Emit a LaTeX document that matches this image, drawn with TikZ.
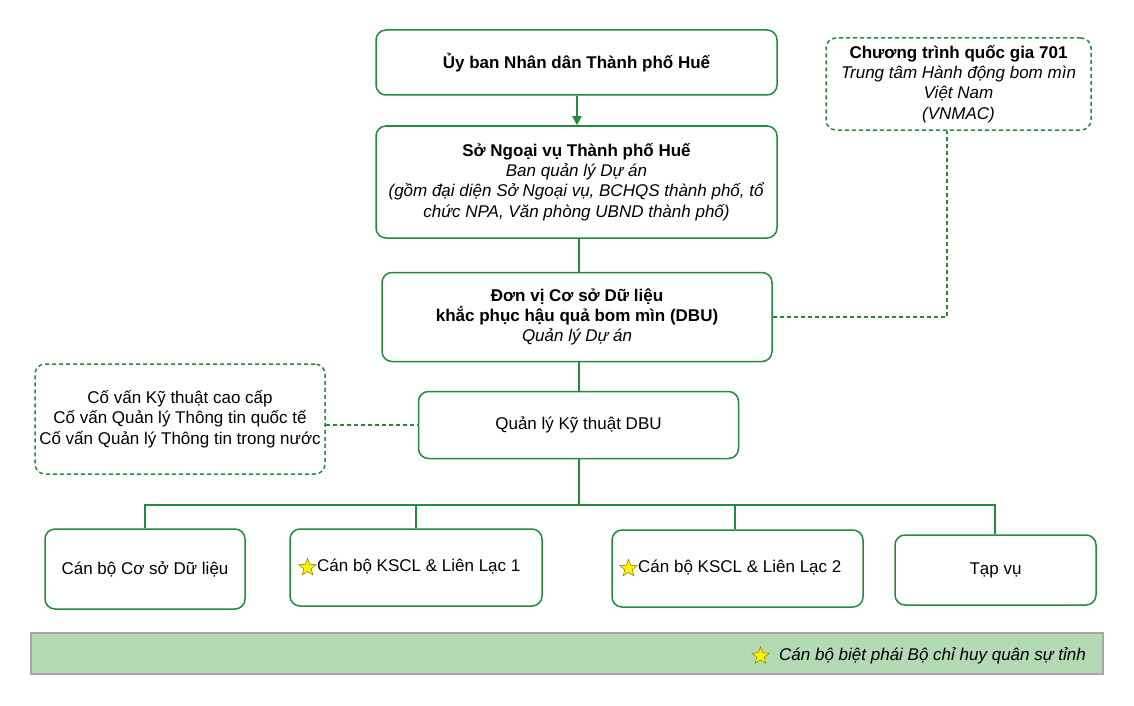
\documentclass[tikz,border=0pt]{standalone}
\usepackage{fontspec}
\setmainfont{Liberation Sans}
\usetikzlibrary{shapes.geometric,arrows.meta}
\definecolor{gr}{HTML}{228B3C}
\definecolor{legfill}{HTML}{B3DAB3}
\definecolor{legdraw}{HTML}{A6A6A6}
\definecolor{starline}{HTML}{8A8A00}
\begin{document}
\begin{tikzpicture}[x=1pt,y=-1pt,
  box/.style={draw=gr,line width=1.5pt,rounded corners=10pt,align=center,inner sep=0pt,fill=white,font=\fontsize{17}{20.4}\selectfont},
  dbox/.style={box,dash pattern=on 4pt off 3pt},
  txt/.style={inner sep=0pt,font=\fontsize{17}{20.4}\selectfont},
  ystar/.style={star,star points=5,star point ratio=2.3,draw=starline,fill=yellow,line width=0.6pt,inner sep=0pt,minimum size=18pt,sharp corners},
  link/.style={draw=gr,line width=1.6pt},
  dlink/.style={link,dash pattern=on 4pt off 3pt}]
\useasboundingbox (0,0) rectangle (1134,706);
\fill[white] (0,0) rectangle (1134,706);

\node[box,minimum width=401pt,minimum height=65pt] (b1) at (576.5,62.5) {\textbf{Ủy ban Nhân dân Thành phố Huế}};
\node[box,minimum width=401pt,minimum height=112pt] (b2) at (576.5,182) {\textbf{Sở Ngoại vụ Thành phố Huế}\\\textit{Ban quản lý Dự án}\\\textit{(gồm đại diện Sở Ngoại vụ, BCHQS thành phố, tổ}\\\textit{chức NPA, Văn phòng UBND thành phố)}};
\node[box,minimum width=390pt,minimum height=89pt] (b3) at (577,317) {\textbf{Đơn vị Cơ sở Dữ liệu}\\\textbf{khắc phục hậu quả bom mìn (DBU)}\\\textit{Quản lý Dự án}};
\node[box,minimum width=320pt,minimum height=67pt] (b4) at (578.5,425) {Quản lý Kỹ thuật DBU};

\node[dbox,minimum width=265pt,minimum height=92pt] (rd) at (958.5,84) {\textbf{Chương trình quốc gia 701}\\\textit{Trung tâm Hành động bom mìn}\\\textit{Việt Nam}\\\textit{(VNMAC)}};
\node[dbox,minimum width=290pt,minimum height=110pt] (ld) at (180,419) {Cố vấn Kỹ thuật cao cấp\\Cố vấn Quản lý Thông tin quốc tế\\Cố vấn Quản lý Thông tin trong nước};

\node[box,minimum width=200pt,minimum height=80pt] (c1) at (145,569) {Cán bộ Cơ sở Dữ liệu};
\node[box,minimum width=252pt,minimum height=77pt] (c2) at (416,567.5) {};
\node[txt,anchor=west] (c2t) at (317,567) {Cán bộ KSCL \& Liên Lạc 1};
\node[ystar] (s2) at (307.5,567.5) {};
\node[box,minimum width=251pt,minimum height=77pt] (c3) at (737.5,568.5) {};
\node[txt,anchor=west] (c3t) at (638,568) {Cán bộ KSCL \& Liên Lạc 2};
\node[ystar] (s3) at (628.5,568.5) {};
\node[box,minimum width=201pt,minimum height=70pt] (c4) at (995.5,570) {Tạp vụ};

\coordinate (j) at (579,505);
\coordinate (a) at (577,0);
\draw[link,-{Triangle[length=9pt,width=9pt]}] (a |- b1.south) -- (a |- b2.north);
\draw[link] (j |- b2.south) -- (j |- b3.north);
\draw[link] (j |- b3.south) -- (j |- b4.north);
\draw[link] (j |- b4.south) -- (j);
\draw[link] (c1.north) |- ([xshift=-0.5pt]c4.north |- j) -- ([xshift=-0.5pt]c4.north);
\draw[link] (c2.north) -- (c2.north |- j);
\draw[link] ([xshift=-2.5pt]c3.north) -- ([xshift=-2.5pt]c3.north |- j);

\draw[dlink] (ld.east |- b4.west) -- (b4.west);
\coordinate (rc) at ([xshift=-11.5pt]rd.south);
\draw[dlink] (b3.east) -| (rc);

\node[draw=legdraw,fill=legfill,line width=1.8pt,minimum width=1072pt,minimum height=41pt,inner sep=0pt] (leg) at (567,653.5) {};
\node[ystar] (ls) at (760.5,656) {};
\node[txt,anchor=east] (legt) at (1086,656) {\textit{Cán bộ biệt phái Bộ chỉ huy quân sự tỉnh}};
\end{tikzpicture}
\end{document}
